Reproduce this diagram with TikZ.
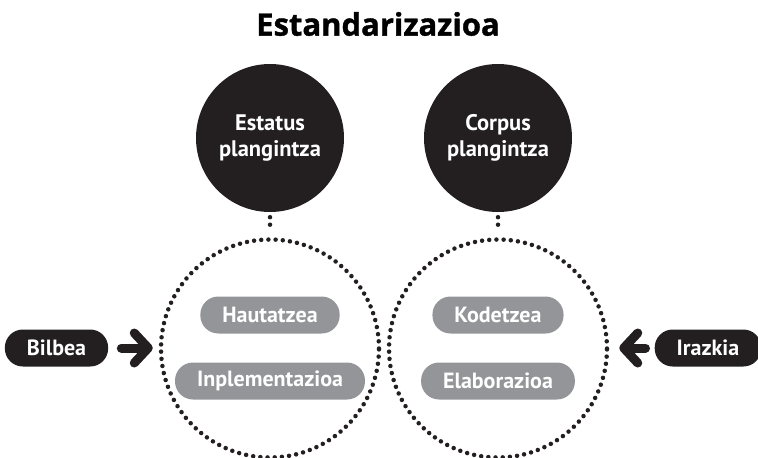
\documentclass[tikz,border=0pt]{standalone}
\usepackage{fontspec}
\setmainfont{PT Sans}
\newfontfamily\headfont[BoldFeatures={FakeBold=1.2}]{Open Sans}
\usetikzlibrary{arrows.meta, positioning}

\definecolor{pillgray}{RGB}{147,149,152}
\definecolor{inkblack}{RGB}{35,31,32}

\tikzset{
	bigdisc/.style={circle, fill=inkblack, text=white, inner sep=0pt, minimum size=148pt, align=center, font=\bfseries\fontsize{22.5}{26}\selectfont},
	ring/.style={circle, draw=inkblack, line width=4.5pt, dash pattern=on 0pt off 7.2pt, line cap=round, minimum size=218pt},
	dotline/.style={draw=inkblack, line width=4.5pt, dash pattern=on 0pt off 7.5pt, line cap=round},
	pill/.style={rounded corners=18pt, fill=pillgray, text=white, minimum height=37pt, inner xsep=22pt, font=\bfseries\fontsize{22}{24}\selectfont},
	tag/.style={pill, fill=inkblack, minimum width=99pt},
	push/.style={draw=inkblack, line width=9pt, line cap=round, -{Straight Barb[length=14pt, width=30pt, round]}}
}

\begin{document}
\begin{tikzpicture}[x=1pt, y=-1pt]
	\useasboundingbox (0,0) rectangle (758,458);
	
	% title
	\node (title) at (378,24) {\headfont\bfseries\fontsize{31}{34}\selectfont Estandarizazioa};
	
	% planning discs
	\node [bigdisc] (estatus) at (270,138) {Estatus\\plangintza};
	\node [bigdisc] (corpus) at (498,138) {Corpus\\plangintza};
	
	% dotted rings
	\node [ring] (estatusring) at (270,348.5) {};
	\node [ring] (corpusring) at (498,348.5) {};
	\draw [dotline, shorten <=5pt, shorten >=7pt] (estatus.south) -- (estatusring.north);
	\draw [dotline, shorten <=5pt, shorten >=7pt] (corpus.south) -- (corpusring.north);
	
	% steps
	\node [pill] (hautatzea) at (270,315) {Hautatzea};
	\node [pill] (inplementazioa) at (270,381) {Inplementazioa};
	\node [pill] (kodetzea) at (498,315) {Kodetzea};
	\node [pill] (elaborazioa) at (498,381) {Elaborazioa};
	
	% sides
	\node [tag] (bilbea) at (56.5,348) {Bilbea};
	\node [tag] (irazkia) at (708,348) {Irazkia};
	\draw [push, shorten <=13pt, shorten >=6pt] (bilbea.east) -- (estatusring.west |- bilbea.east);
	\draw [push, shorten <=9pt, shorten >=10pt] (irazkia.west) -- (corpusring.east |- irazkia.west);
\end{tikzpicture}
\end{document}
